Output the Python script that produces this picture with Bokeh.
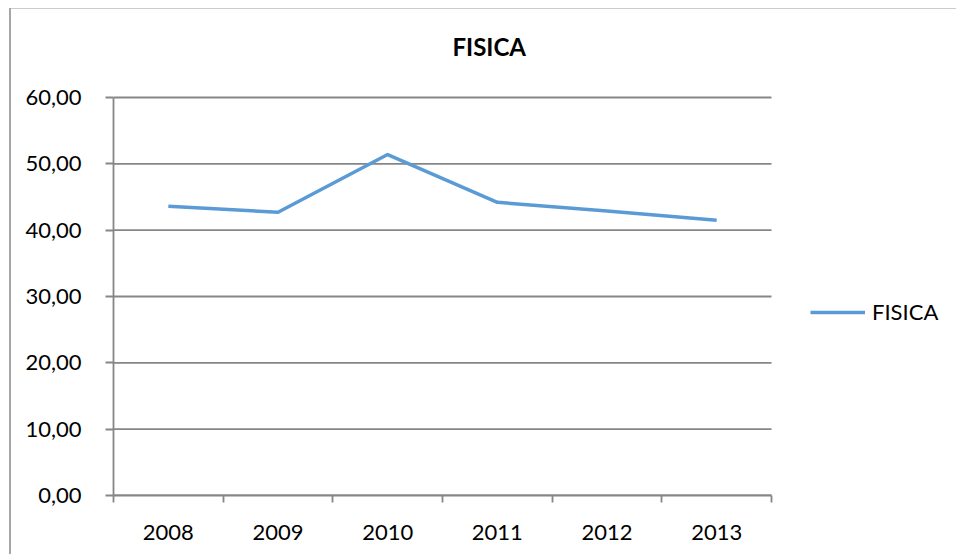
from bokeh.plotting import figure
from bokeh.models import FixedTicker, Legend, LegendItem, Range1d
from bokeh.embed import file_html
from bokeh.resources import INLINE

years = ["2008", "2009", "2010", "2011", "2012", "2013"]
fisica = [43.6, 42.7, 51.4, 44.2, 42.9, 41.5]
y_ticks = [0, 10, 20, 30, 40, 50, 60]
y_labels = ["0,00", "10,00", "20,00", "30,00", "40,00", "50,00", "60,00"]
series_name = "FISICA"
title_text = "FISICA"

FONT = "Lato"
GRID = "#868686"

n = len(years)
xs = [i + 0.5 for i in range(n)]
y_max = y_ticks[-1]

# the frame extends right (legend) and a little above the top gridline (title room);
# the plotted area itself is x 0..n, y 0..y_max
p = figure(width=956, height=554, output_backend="svg", toolbar_location=None,
           x_range=Range1d(0, n * 832 / 658), y_range=Range1d(0, y_max * 415 / 398),
           min_border_left=113, min_border_right=11, min_border_top=80,
           min_border_bottom=59)
# chart-area border (left and top edges) drawn as the host element's background
p.styles = {
    "background-image": "linear-gradient(#a6a6a6, #a6a6a6), linear-gradient(#cccccc, #cccccc)",
    "background-repeat": "no-repeat",
    "background-size": "2px 100%, 100% 1px",
    "background-position": "9px 8px, 9px 8px",
}
p.border_fill_alpha = 0

p.title.text = title_text
p.title.align = "left"
p.title.offset = 339
p.title.standoff = 40
p.title.text_font = FONT
p.title.text_font_size = "24px"
p.title.text_font_style = "bold"
p.title.text_color = "#000000"

p.outline_line_color = None
p.background_fill_color = "white"

# y axis
p.yaxis.bounds = (0, y_max)
p.yaxis.ticker = FixedTicker(ticks=y_ticks)
p.yaxis.major_label_overrides = {t: l for t, l in zip(y_ticks, y_labels)}
p.yaxis.axis_line_color = GRID
p.yaxis.axis_line_width = 1.8
p.yaxis.major_tick_line_color = GRID
p.yaxis.major_tick_line_width = 1.8
p.yaxis.major_tick_out = 8
p.yaxis.major_tick_in = 0
p.yaxis.minor_tick_line_color = None
p.yaxis.major_label_standoff = 24
p.yaxis.major_label_text_font = FONT
p.yaxis.major_label_text_font_size = "22px"
p.yaxis.major_label_text_color = "#000000"

# x axis: labels at category centres, ticks at boundaries
p.xaxis.bounds = (0, n)
p.xaxis.ticker = FixedTicker(ticks=xs, minor_ticks=list(range(n + 1)))
p.xaxis.major_label_overrides = {x: y for x, y in zip(xs, years)}
p.xaxis.axis_line_color = GRID
p.xaxis.axis_line_width = 1.8
p.xaxis.major_tick_line_color = None
p.xaxis.major_tick_out = 0
p.xaxis.major_tick_in = 0
p.xaxis.minor_tick_line_color = GRID
p.xaxis.minor_tick_line_width = 1.8
p.xaxis.minor_tick_out = 7
p.xaxis.minor_tick_in = 0
p.xaxis.major_label_standoff = 22
p.xaxis.major_label_text_font = FONT
p.xaxis.major_label_text_font_size = "22px"
p.xaxis.major_label_text_color = "#000000"

p.xgrid.grid_line_color = None
p.ygrid.grid_line_color = None

# horizontal gridlines over the category area only
p.segment(x0=[0] * len(y_ticks), x1=[n] * len(y_ticks), y0=y_ticks, y1=y_ticks,
          line_color=GRID, line_width=1.8)

r = p.line(xs, fisica, line_color="#5B9BD5", line_width=3.5, line_join="round")

legend = Legend(items=[LegendItem(label=series_name, renderers=[r])],
                location=(697, 170))
legend.border_line_color = None
legend.background_fill_alpha = 0
legend.padding = 0
legend.margin = 0
legend.glyph_width = 55
legend.glyph_height = 22
legend.label_height = 22
legend.label_standoff = 7
legend.label_text_font = FONT
legend.label_text_font_size = "22px"
legend.label_text_color = "#000000"
p.add_layout(legend, "center")

open("out.html", "w").write(file_html(p, INLINE))
